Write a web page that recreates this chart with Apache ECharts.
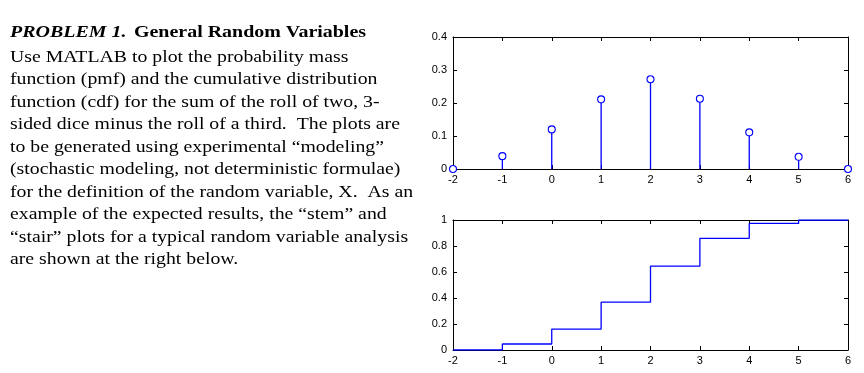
<!DOCTYPE html>
<html>
<head>
<meta charset="utf-8">
<script src="https://cdn.jsdelivr.net/npm/echarts@6/dist/echarts.min.js"></script>
<style>
html,body{margin:0;padding:0;background:#fff;}
#main{width:864px;height:373px;}
</style>
</head>
<body>
<div id="main"></div>
<script>
// ---- data ----
const xValues = [-2, -1, 0, 1, 2, 3, 4, 5, 6];
const pmfValues = [0, 0.039, 0.120, 0.211, 0.272, 0.213, 0.111, 0.037, 0];
const cdfValues = [0, 0.046, 0.161, 0.368, 0.645, 0.859, 0.974, 1.0, 1.0];
const titleBoldItalic = 'PROBLEM 1.';
const titleBold = 'General Random Variables';
const bodyLines = [
  'Use MATLAB to plot the probability mass',
  'function (pmf) and the cumulative distribution',
  'function (cdf) for the sum of the roll of two, 3-',
  'sided dice minus the roll of a third.  The plots are',
  'to be generated using experimental \u201cmodeling\u201d',
  '(stochastic modeling, not deterministic formulae)',
  'for the definition of the random variable, X.  As an',
  'example of the expected results, the \u201cstem\u201d and',
  '\u201cstair\u201d plots for a typical random variable analysis',
  'are shown at the right below.'
];

const BLUE = '#0000ff';
const FONT = '"Liberation Sans", Arial, sans-serif';
const SERIF = '"Liberation Serif", "Times New Roman", serif';

function axisSet(gridIndex, min, max, interval, pos, showLabel, isX) {
  return {
    type: 'value', gridIndex: gridIndex, position: pos,
    min: min, max: max, interval: interval,
    axisLine: { show: true, onZero: false, lineStyle: { color: '#000', width: 1 } },
    axisTick: { show: true, inside: true, length: 4, lineStyle: { color: '#000', width: 1 } },
    splitLine: { show: false },
    axisLabel: {
      show: showLabel, color: '#000', fontFamily: FONT, fontSize: 11,
      margin: isX ? 5 : 6
    }
  };
}

const chart = echarts.init(document.getElementById('main'));
const option = {
  animation: false,
  backgroundColor: '#fff',
  grid: [
    { left: 453, right: 16, top: 37, height: 132 },
    { left: 453, right: 16, top: 220, height: 130 }
  ],
  xAxis: [
    axisSet(0, -2, 6, 1, 'bottom', true, true),
    axisSet(0, -2, 6, 1, 'top', false, true),
    axisSet(1, -2, 6, 1, 'bottom', true, true),
    axisSet(1, -2, 6, 1, 'top', false, true)
  ],
  yAxis: [
    axisSet(0, 0, 0.4, 0.1, 'left', true, false),
    axisSet(0, 0, 0.4, 0.1, 'right', false, false),
    axisSet(1, 0, 1, 0.2, 'left', true, false),
    axisSet(1, 0, 1, 0.2, 'right', false, false)
  ],
  graphic: [
    {
      type: 'text', x: 10, y: 23, scaleX: 1.14,
      style: {
        text: '{a|' + titleBoldItalic + '}  {b|' + titleBold + '}',
        verticalAlign: 'top',
        rich: {
          a: { font: 'italic bold 17.5px ' + SERIF, fill: '#000' },
          b: { font: 'bold 17.5px ' + SERIF, fill: '#000' }
        }
      }
    },
    {
      type: 'text', x: 10, y: 46, scaleX: 1.13,
      style: {
        text: bodyLines.join('\n'),
        verticalAlign: 'top',
        font: '17.5px ' + SERIF, fill: '#000', lineHeight: 22.5
      }
    }
  ],
  series: [
    {
      type: 'bar', xAxisIndex: 0, yAxisIndex: 0,
      data: xValues.map((x, i) => [x, pmfValues[i]]),
      barWidth: 1.3, itemStyle: { color: BLUE }, silent: true
    },
    {
      type: 'scatter', xAxisIndex: 0, yAxisIndex: 0, clip: false,
      data: xValues.map((x, i) => [x, pmfValues[i]]),
      symbol: 'circle', symbolSize: 7,
      itemStyle: { color: '#ffffff', borderColor: BLUE, borderWidth: 1.1, opacity: 1 }, z: 5
    },
    {
      type: 'line', xAxisIndex: 2, yAxisIndex: 2, step: 'end',
      data: xValues.map((x, i) => [x, cdfValues[i]]),
      showSymbol: false, lineStyle: { color: BLUE, width: 1.3 }
    }
  ]
};
chart.setOption(option);
</script>
</body>
</html>
